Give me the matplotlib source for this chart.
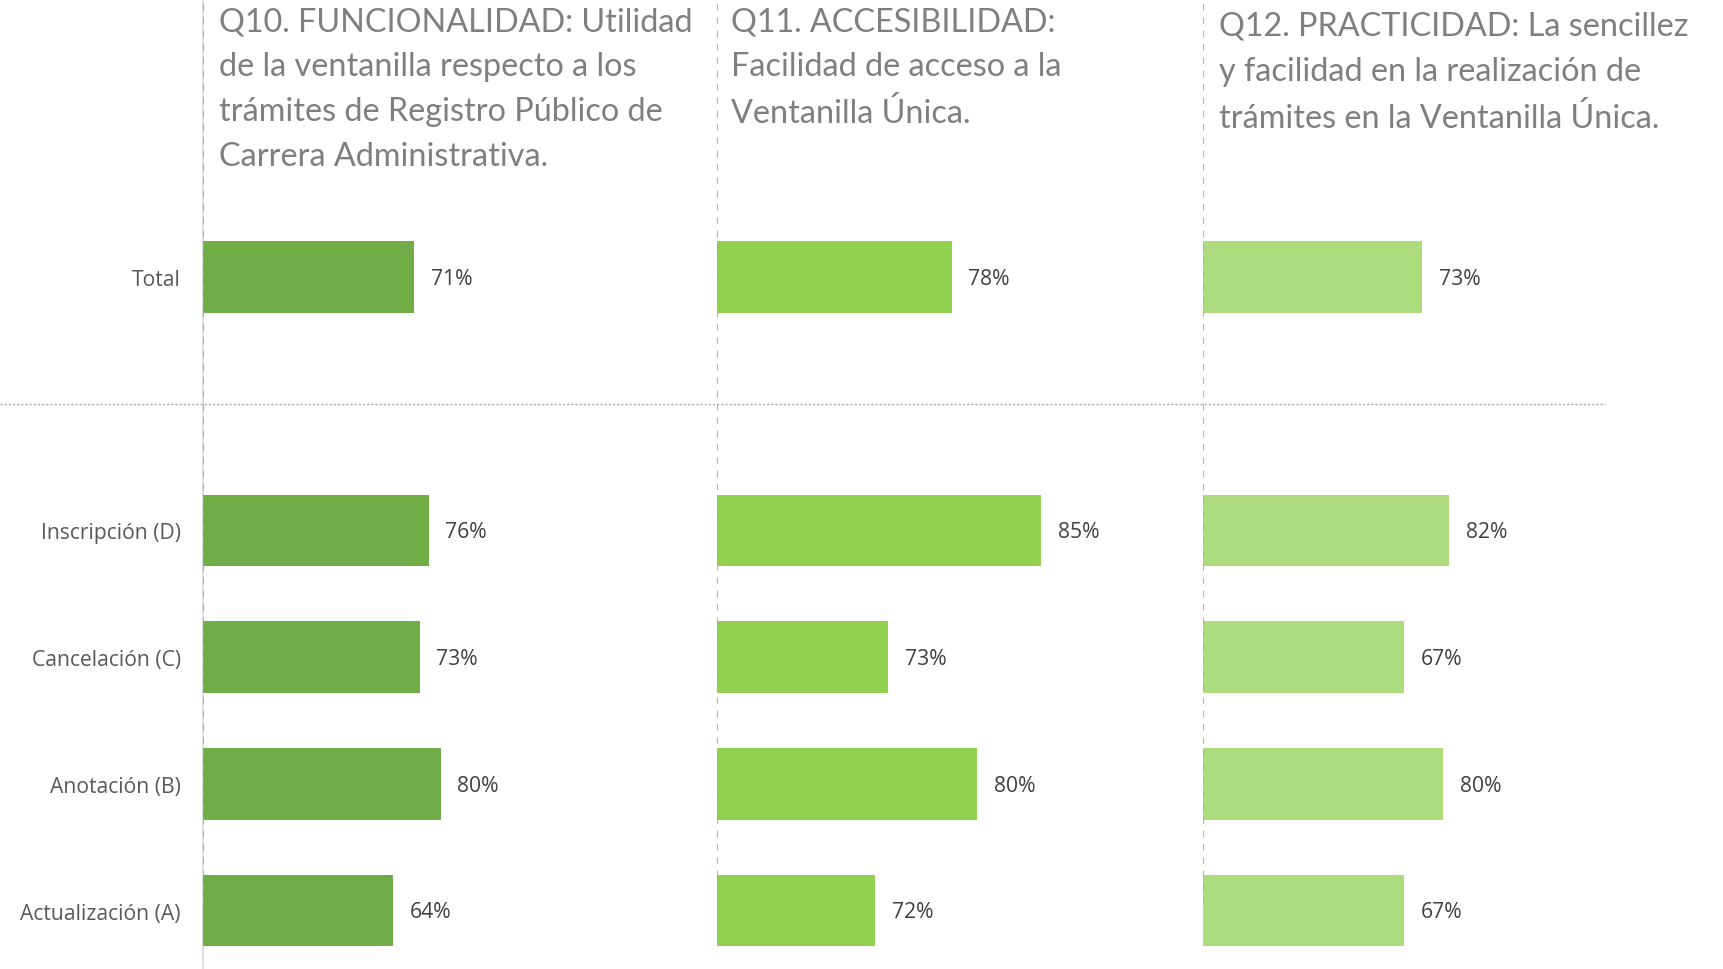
import matplotlib
matplotlib.use("Agg")
import matplotlib.pyplot as plt
import matplotlib.transforms as mtransforms

# ---- data ----
categories = ['Actualización (A)', 'Anotación (B)', 'Cancelación (C)', 'Inscripción (D)', 'Total']
q10_values = [0.64, 0.80, 0.73, 0.76, 0.71]
q11_values = [0.72, 0.80, 0.73, 0.85, 0.78]
q12_values = [0.67, 0.80, 0.67, 0.82, 0.73]
titles = [
    "Q10. FUNCIONALIDAD: Utilidad\nde la ventanilla respecto a los\ntrámites de Registro Público de\nCarrera Administrativa.",
    "Q11. ACCESIBILIDAD:\nFacilidad de acceso a la\nVentanilla Única.",
    "Q12. PRACTICIDAD: La sencillez\ny facilidad en la realización de\ntrámites en la Ventanilla Única.",
]

# ---- layout ----
W, H = 1724, 970
positions = [0, 1, 2, 3, 5]
colors = ['#70AD47', '#92D050', '#AEDB7E']
series = [q10_values, q11_values, q12_values]
ax_lefts = [203, 717, 1203]
ax_widths = [514, 486, 521]
xlims = [(0, 514 / 297.0), (0.596, 0.596 + 486 / 1276.0), (0, 521 / 300.0)]
title_x = [219, 731, 1219]
title_y = [7, 7, 12]
ylim = (-0.4617, 7.194)

fig = plt.figure(figsize=(W / 100, H / 100), dpi=100)
fig.patch.set_facecolor('white')

axes = []
for i in range(3):
    ax = fig.add_axes([ax_lefts[i] / W, 0, ax_widths[i] / W, 1])
    ax.set_facecolor('none')
    ax.barh(positions, series[i], height=0.564, color=colors[i], zorder=3)
    ax.set_xlim(*xlims[i])
    ax.set_ylim(*ylim)
    for s in ['top', 'right', 'bottom', 'left']:
        ax.spines[s].set_visible(False)
    ax.set_xticks([])
    if i == 0:
        ax.set_yticks(positions)
        ax.set_yticklabels(categories, fontsize=15.2, color='#595959', family='Open Sans')
        ax.tick_params(axis='y', length=0, pad=16)
        ax.spines['left'].set_visible(True)
        ax.spines['left'].set_color('#D9D9D9')
        ax.spines['left'].set_linewidth(1.2)
    else:
        ax.set_yticks([])
    ax.axvline(xlims[i][0], ymin=0.067, ymax=1.0, color='#A6A6A6',
               ls=(0, (4, 4)), lw=1.2, zorder=4)
    for p, v in zip(positions, series[i]):
        ax.annotate(f"{round(v * 100):d}%", xy=(v, p), xytext=(12, -1),
                    textcoords='offset points', va='center', ha='left',
                    fontsize=15.2, color='#404040', family='Open Sans')
    axes.append(ax)

# separator between Total and detail rows
blend = mtransforms.blended_transform_factory(fig.transFigure, axes[0].transData)
axes[0].plot([0, 1605 / W], [4, 4], transform=blend, clip_on=False,
             color='#A6A6A6', ls=(0, (1.5, 1.5)), lw=1.0, zorder=2)

for i in range(3):
    fig.text(title_x[i] / W, 1 - title_y[i] / H, titles[i], ha='left', va='top',
             fontsize=23.3, color='#7F7F7F', family='Lato', linespacing=1.63)

fig.savefig('out.png', dpi=100, facecolor='white')
